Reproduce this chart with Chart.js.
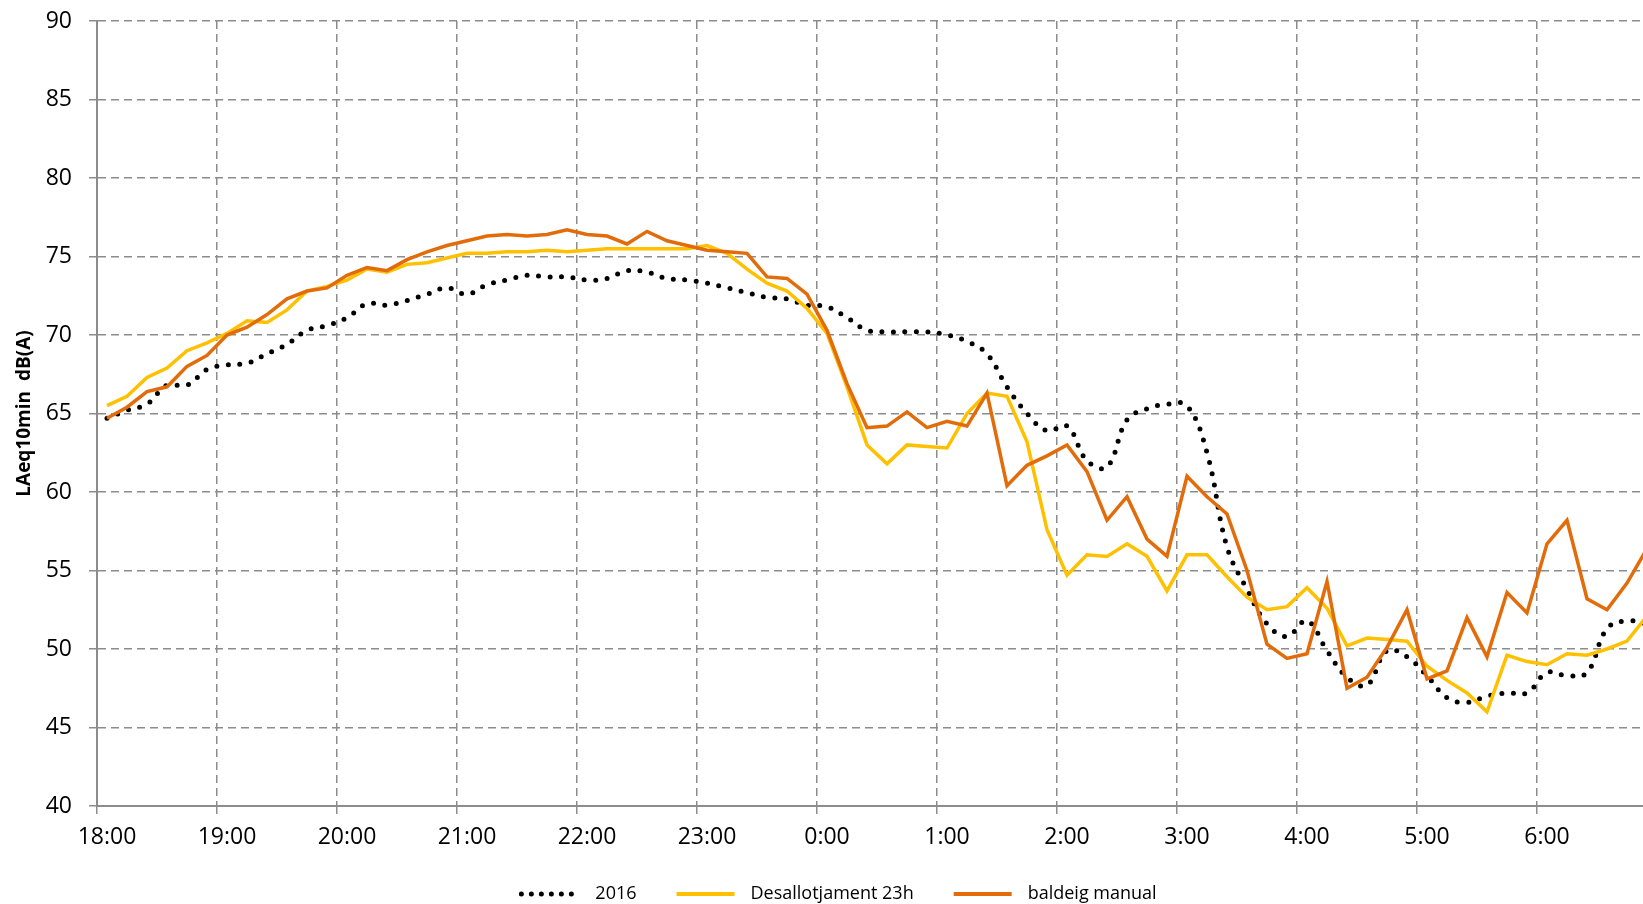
<!DOCTYPE html>
<html>
<head>
<meta charset="utf-8">
<title>LAeq10min</title>
<script src="https://cdn.jsdelivr.net/npm/chart.js@4.4.1/dist/chart.umd.min.js"></script>
<style>
    html, body { margin: 0; padding: 0; background: #ffffff; }
    #wrap { width: 1643px; height: 904px; position: relative; }
</style>
</head>
<body>
<div id="wrap"><canvas id="noiseChart"></canvas></div>
<script>
// Hour labels shown on the x axis (one per 6 slots of 10 minutes)
const hourLabels = ['18:00', '19:00', '20:00', '21:00', '22:00', '23:00', '0:00',
    '1:00', '2:00', '3:00', '4:00', '5:00', '6:00'];

const seriesNames = ['2016', 'Desallotjament 23h', 'baldeig manual'];

// LAeq10min dB(A), one value per 10-minute slot starting at 18:00
const values2016 = [
    64.7, 65.2, 65.6, 66.8, 66.8, 67.8, 68.1, 68.2, 68.8, 69.4,
    70.3, 70.6, 71.1, 72.0, 71.9, 72.2, 72.6, 73.0, 72.6, 73.2,
    73.5, 73.8, 73.7, 73.7, 73.5, 73.6, 74.1, 74.0, 73.6, 73.5,
    73.3, 73.0, 72.7, 72.4, 72.3, 71.9, 71.8, 71.1, 70.3, 70.2,
    70.2, 70.2, 70.0, 69.6, 68.8, 66.7, 65.0, 63.9, 64.2, 62.0,
    61.6, 64.6, 65.3, 65.6, 65.5, 62.5, 56.5, 53.8, 51.6, 50.8,
    51.8, 49.9, 48.2, 47.7, 49.9, 49.5, 48.3, 46.9, 46.6, 47.0,
    47.2, 47.2, 48.5, 48.3, 48.5, 51.3, 51.8, 51.6
];

const valuesDesallotjament = [
    65.5, 66.1, 67.3, 67.9, 69.0, 69.5, 70.1, 70.9, 70.8, 71.6,
    72.8, 73.1, 73.5, 74.2, 74.0, 74.5, 74.6, 74.9, 75.2, 75.2,
    75.3, 75.3, 75.4, 75.3, 75.4, 75.5, 75.5, 75.5, 75.5, 75.5,
    75.7, 75.2, 74.2, 73.3, 72.8, 71.7, 70.1, 66.7, 63.0, 61.8,
    63.0, 62.9, 62.8, 65.0, 66.3, 66.1, 63.2, 57.6, 54.7, 56.0,
    55.9, 56.7, 55.9, 53.7, 56.0, 56.0, 54.6, 53.3, 52.5, 52.7,
    53.9, 52.6, 50.2, 50.7, 50.6, 50.5, 48.9, 48.0, 47.2, 46.0,
    49.6, 49.2, 49.0, 49.7, 49.6, 50.0, 50.5, 52.1
];

const valuesBaldeig = [
    64.7, 65.4, 66.4, 66.7, 68.0, 68.7, 70.0, 70.5, 71.3, 72.3,
    72.8, 73.0, 73.8, 74.3, 74.1, 74.8, 75.3, 75.7, 76.0, 76.3,
    76.4, 76.3, 76.4, 76.7, 76.4, 76.3, 75.8, 76.6, 76.0, 75.7,
    75.4, 75.3, 75.2, 73.7, 73.6, 72.6, 70.3, 66.9, 64.1, 64.2,
    65.1, 64.1, 64.5, 64.2, 66.3, 60.4, 61.7, 62.3, 63.0, 61.3,
    58.2, 59.7, 57.0, 55.9, 61.0, 59.7, 58.6, 55.0, 50.3, 49.4,
    49.7, 54.3, 47.5, 48.2, 50.1, 52.5, 48.1, 48.6, 52.0, 49.5,
    53.6, 52.3, 56.7, 58.2, 53.2, 52.5, 54.2, 56.4
];

const slotMinutes = 10;
const visibleMinutes = 773;

const fontFamily = '"Open Sans", "Liberation Sans", sans-serif';
const gridColor = '#8c8c8c';

// Each value sits in the middle of its 10-minute slot
function toPoints(values) {
    return values.map((v, i) => ({ x: i * slotMinutes + slotMinutes / 2, y: v }));
}

// Legend drawn under the axis, like the spreadsheet one
const bottomLegend = {
    id: 'bottomLegend',
    afterDraw(chart) {
        const ctx = chart.ctx;
        const lineLen = 62;
        const gapText = 14;
        const gapItem = 38;
        const y = 894;
        ctx.save();
        ctx.font = '18px ' + fontFamily;
        const widths = chart.data.datasets.map(ds => ctx.measureText(ds.label).width);
        let total = 0;
        widths.forEach(w => { total += lineLen + gapText + w; });
        total += gapItem * (widths.length - 1);
        let x = 838 - total / 2;
        chart.data.datasets.forEach((ds, i) => {
            ctx.beginPath();
            ctx.strokeStyle = ds.borderColor;
            ctx.lineWidth = ds.legendWidth;
            ctx.lineCap = ds.borderCapStyle || 'butt';
            ctx.setLineDash(ds.legendDash || []);
            ctx.moveTo(x + 2, y);
            ctx.lineTo(x + lineLen - 2, y);
            ctx.stroke();
            ctx.setLineDash([]);
            ctx.fillStyle = '#000';
            ctx.textBaseline = 'middle';
            ctx.textAlign = 'left';
            ctx.fillText(ds.label, x + lineLen + gapText, y);
            x += lineLen + gapText + widths[i] + gapItem;
        });
        ctx.restore();
    }
};

const ctx = document.getElementById('noiseChart');
new Chart(ctx, {
    type: 'line',
    data: {
        datasets: [
            {
                label: seriesNames[0],
                data: toPoints(values2016),
                borderColor: '#000000',
                borderWidth: 5,
                borderDash: [0, 11.5],
                borderCapStyle: 'round',
                legendWidth: 5,
                legendDash: [0, 10],
                tension: 0.4,
                pointRadius: 0,
                order: 3
            },
            {
                label: seriesNames[1],
                data: toPoints(valuesDesallotjament),
                borderColor: '#ffc000',
                borderWidth: 3.5,
                legendWidth: 4,
                tension: 0,
                pointRadius: 0,
                order: 2
            },
            {
                label: seriesNames[2],
                data: toPoints(valuesBaldeig),
                borderColor: '#e36c0a',
                borderWidth: 3.5,
                legendWidth: 4,
                tension: 0,
                pointRadius: 0,
                order: 1
            }
        ]
    },
    options: {
        responsive: true,
        maintainAspectRatio: false,
        animation: false,
        layout: { padding: { top: 21, right: 0, bottom: 98 - 70, left: 0 } },
        plugins: {
            legend: { display: false },
            tooltip: { enabled: false }
        },
        scales: {
            x: {
                type: 'linear',
                min: 0,
                max: visibleMinutes,
                afterFit: (scale) => {
                    scale.height = 70;
                    scale.paddingLeft = 0;
                    scale.paddingRight = 0;
                },
                grid: {
                    color: gridColor,
                    lineWidth: 1.5,
                    tickLength: 8,
                    tickColor: gridColor,
                    drawTicks: true
                },
                border: { display: true, color: gridColor, width: 2, dash: [8, 5] },
                ticks: {
                    stepSize: 60,
                    includeBounds: false,
                    autoSkip: false,
                    maxRotation: 0,
                    labelOffset: 10,
                    padding: 10,
                    color: '#000',
                    font: { family: fontFamily, size: 23 },
                    callback: (v) => hourLabels[v / 60]
                }
            },
            y: {
                min: 40,
                max: 90,
                afterFit: (scale) => {
                    scale.width = 97;
                    scale.paddingTop = 0;
                    scale.paddingBottom = 0;
                },
                grid: {
                    color: gridColor,
                    lineWidth: 1.5,
                    tickLength: 8,
                    tickColor: gridColor
                },
                border: { display: true, color: gridColor, width: 2, dash: [8, 5] },
                ticks: {
                    stepSize: 5,
                    padding: 17,
                    color: '#000',
                    font: { family: fontFamily, size: 23 }
                },
                title: {
                    display: true,
                    text: 'LAeq10min  dB(A)',
                    color: '#000',
                    font: { family: fontFamily, size: 19, weight: 'bold' },
                    padding: { top: 13, bottom: 0 }
                }
            }
        }
    },
    plugins: [bottomLegend]
});
</script>
</body>
</html>
